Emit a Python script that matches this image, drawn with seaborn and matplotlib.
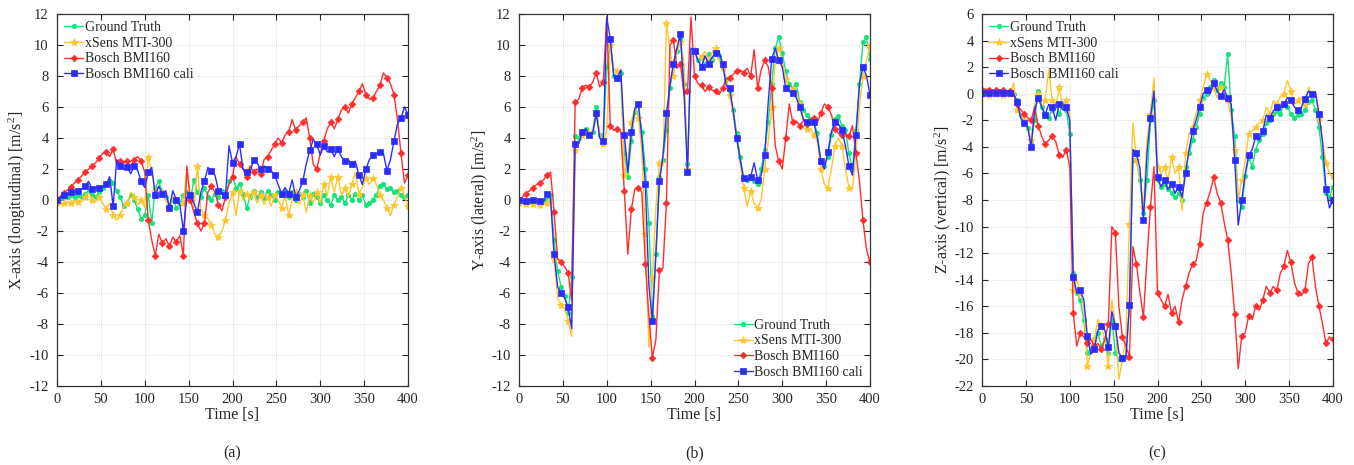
import numpy as np
import pandas as pd
import matplotlib
matplotlib.use("Agg")
import matplotlib.pyplot as plt
import seaborn as sns

# Sample times [s], one sample every 4 s
t = np.arange(0, 401, 4)

series_names = ["Ground Truth", "xSens MTI-300", "Bosch BMI160", "Bosch BMI160 cali"]

# ---------------- X-axis (longitudinal) ----------------
x_gt = [0.0, 0.1, 0.2, 0.2, 0.3, 0.2, 0.3, 0.2, 0.4, 0.6,
        0.3, 0.2, 0.5, 0.8, 1.0, 1.2, 1.1, 0.6, 0.2, -0.4,
        -0.2, 0.3, 0.0, -0.6, -1.2, -1.0, 0.3, -1.5, 0.8, 1.2,
        0.5, 0.2, -0.3, 0.0, -0.5, -0.2, 0.3, 0.5, 0.0, 1.3,
        0.5, 0.2, 0.8, 0.2, 0.0, 0.4, 0.2, 0.6, 0.3, 1.2,
        1.5, 0.8, 1.0, 0.4, -0.5, 0.2, 0.6, 0.2, 0.5, 0.1,
        0.6, 0.3, 0.0, 0.5, 0.3, 0.6, 0.2, 0.5, 0.0, 0.4,
        0.2, 0.6, -0.2, 0.4, 0.2, -0.2, 0.3, 0.0, -0.3, 0.3,
        0.0, 0.2, -0.2, 0.3, 0.0, 0.4, 0.0, 0.3, -0.3, -0.2,
        0.0, 0.3, 0.9, 1.0, 0.7, 0.8, 0.5, 0.6, 0.3, 0.2,
        0.3]
x_xsens = [-0.2, -0.3, -0.2, -0.1, -0.2, 0.0, -0.1, 0.0, 0.2, 0.5,
           0.0, -0.1, 0.2, -0.2, -0.6, -0.2, -1.0, -1.3, -1.0, -0.4,
           -0.2, 0.5, 0.2, -0.3, 0.0, -0.5, 2.8, 1.8, 0.6, 0.3,
           0.5, 0.0, -0.5, 0.2, 0.0, -0.3, -0.2, 2.0, 0.0, -0.5,
           2.2, -0.6, -1.0, -1.2, -1.6, -2.2, -2.4, -2.0, -1.3, -0.2,
           0.5, -1.0, 0.6, 0.0, 0.4, 0.0, 0.5, -0.2, 0.3, -0.3,
           0.2, -0.4, 0.3, 0.0, -0.5, 0.3, -1.0, 0.0, 0.5, -0.3,
           0.4, -0.8, 0.3, -0.2, 0.5, -0.2, 1.0, 0.3, 1.5, 0.5,
           1.5, 0.3, 0.8, 0.2, 1.0, 1.8, 0.4, 0.8, 1.4, 1.0,
           1.4, 1.0, 0.3, 0.0, -0.5, -1.0, -0.3, 0.2, 0.8, 0.3,
           -0.4]
x_bosch = [0.0, 0.25, 0.45, 0.65, 0.85, 1.1, 1.3, 1.55, 1.8, 2.0,
           2.2, 2.4, 2.7, 3.0, 3.1, 2.8, 3.3, 2.3, 2.5, 2.4,
           2.5, 2.1, 2.6, 2.8, 2.5, 1.8, -1.3, -2.6, -3.6, -2.2,
           -2.8, -2.5, -3.0, -2.4, -2.7, -2.3, -3.6, 2.2, 0.0, -0.8,
           -1.5, -2.0, -1.5, 0.5, 0.9, 0.5, -0.3, -0.7, 0.2, 1.0,
           1.5, 2.8, 2.3, 2.0, 1.5, 2.2, 1.8, 2.0, 1.7, 2.6,
           2.8, 3.2, 3.6, 4.0, 3.7, 4.2, 4.4, 5.2, 4.5, 4.8,
           5.0, 5.3, 4.0, 2.3, 2.0, 3.0, 3.8, 4.6, 5.0, 4.6,
           5.2, 5.8, 6.0, 5.6, 6.2, 6.6, 7.0, 7.5, 6.8, 6.5,
           6.6, 7.0, 7.4, 8.2, 7.9, 7.5, 6.8, 5.2, 3.0, 1.1,
           1.6]
x_cali = [0.0, 0.2, 0.3, 0.4, 0.5, 0.5, 0.6, 0.7, 0.9, 1.2,
          0.7, 0.8, 0.8, 0.9, 1.0, 1.5, -0.4, 2.6, 2.2, 2.0,
          2.1, 1.7, 2.2, 1.9, 1.2, 0.8, 1.8, 2.1, 0.3, 0.9,
          0.4, 0.6, -0.5, 0.6, 0.0, -0.3, -2.0, 0.2, 0.3, -0.2,
          -0.8, 0.5, 1.2, 2.1, 1.9, 1.6, 0.6, 0.4, 0.3, 3.5,
          2.4, 2.8, 3.6, 2.0, 1.8, 1.8, 2.6, 2.4, 2.0, 2.2,
          2.0, 1.9, 1.6, 1.0, 0.4, 0.8, 0.4, 1.3, 0.2, 0.6,
          1.2, 2.3, 3.2, 3.9, 3.6, 2.9, 3.5, 3.1, 3.3, 2.8,
          3.3, 2.8, 2.5, 2.6, 2.3, 2.5, 1.6, 1.0, 2.0, 2.6,
          2.9, 3.0, 3.1, 3.0, 1.9, 2.6, 3.8, 4.9, 5.3, 6.0,
          5.5]

# ---------------- Y-axis (lateral) ----------------
y_gt = [0.0, -0.05, -0.05, -0.05, -0.05, -0.05, -0.05, -0.05, 0.0, 0.3,
        -2.6, -4.6, -5.6, -6.2, -7.3, -5.0, 4.1, 4.0, 4.4, 4.6,
        4.2, 4.4, 6.0, 4.2, 3.8, 8.6, 10.0, 8.0, 7.9, 8.2,
        3.0, 1.5, 3.8, 5.7, 6.2, 4.4, 2.0, -1.5, -7.5, -3.5,
        1.5, 2.6, 4.5, 7.2, 8.8, 9.6, 10.4, 7.5, 2.3, 9.6,
        9.6, 9.0, 9.2, 8.7, 9.4, 9.0, 9.5, 9.3, 8.6, 7.8,
        7.0, 5.8, 4.3, 2.8, 1.4, 1.3, 1.5, 1.2, 1.0, 2.0,
        3.2, 5.0, 7.5, 9.8, 10.5, 9.5, 8.3, 7.5, 7.2, 7.5,
        6.3, 5.8, 5.5, 5.2, 5.0, 4.3, 2.5, 2.2, 2.8, 4.2,
        5.2, 5.4, 4.8, 4.5, 3.0, 2.0, 4.5, 7.5, 10.2, 10.5,
        9.1]
y_xsens = [-0.2, -0.2, -0.25, -0.2, -0.25, -0.2, -0.3, -0.25, -0.2, 0.2,
           -3.8, -6.3, -6.8, -7.0, -7.8, -8.8, 3.2, 3.8, 4.2, 4.5,
           4.3, 4.2, 5.5, 4.4, 3.6, 4.5, 10.0, 8.5, 8.3, 8.0,
           1.6, 2.5, 5.0, 6.0, 5.3, 3.2, -2.2, -9.5, -5.0, -0.5,
           2.4, 2.2, 11.4, 9.8, 8.0, 9.5, 10.2, 8.8, 2.0, 9.6,
           9.7, 9.5, 9.2, 9.6, 9.0, 9.5, 9.8, 9.0, 8.5, 8.0,
           6.8, 5.5, 4.0, 2.4, 0.8, -0.4, 0.6, -0.2, -0.5, 0.0,
           2.0, 3.8, 6.0, 9.0, 9.8, 9.0, 7.8, 7.0, 7.2, 7.0,
           6.2, 5.3, 4.6, 4.6, 4.2, 3.8, 2.0, 1.0, 0.8, 2.0,
           3.5, 4.0, 3.5, 2.0, 0.8, 0.7, 3.0, 6.0, 8.0, 9.0,
           10.0]
y_bosch = [0.0, 0.2, 0.4, 0.6, 0.8, 1.0, 1.1, 1.3, 1.6, 1.8,
           -0.8, -3.8, -4.0, -4.3, -4.7, -6.5, 6.3, 6.5, 7.2, 7.4,
           7.3, 7.6, 8.2, 7.3, 7.6, 11.8, 4.8, 4.5, 4.6, 4.4,
           0.6, -3.5, -0.6, 0.7, 0.8, 0.5, -4.1, -7.5, -10.2, -9.0,
           -4.5, -4.4, -0.2, 10.0, 10.3, 8.5, 8.8, 6.8, 7.0, 11.8,
           8.0, 7.5, 7.4, 7.0, 7.3, 7.1, 7.0, 6.8, 7.2, 7.8,
           7.9, 8.1, 8.3, 8.4, 8.2, 8.5, 8.0, 9.7, 7.2, 8.4,
           9.0, 8.6, 7.2, 3.5, 2.5, 2.0, 4.0, 6.2, 5.0, 5.1,
           4.8, 5.1, 4.9, 5.2, 5.3, 5.0, 5.6, 6.2, 6.0, 5.5,
           4.6, 4.3, 4.2, 4.3, 4.1, 4.8, 3.0, 1.2, -1.3, -3.2,
           -4.0]
y_cali = [0.0, -0.05, -0.05, -0.05, 0.0, -0.05, -0.05, -0.1, 0.4, 0.1,
          -3.5, -5.6, -6.0, -6.3, -6.9, -8.3, 3.6, 3.6, 4.4, 4.6,
          4.2, 4.3, 5.6, 4.0, 3.8, 11.8, 10.4, 8.0, 7.9, 8.4,
          4.2, 1.8, 4.4, 5.9, 6.2, 4.0, 1.0, -5.5, -7.8, -3.5,
          1.2, 2.8, 5.6, 7.4, 8.8, 9.8, 10.7, 7.0, 1.8, 9.8,
          9.6, 9.0, 8.6, 9.3, 8.8, 9.2, 9.5, 9.6, 8.8, 7.4,
          7.2, 5.8, 4.0, 2.6, 1.4, 1.2, 1.5, 2.4, 1.3, 1.6,
          2.9, 6.3, 9.1, 9.8, 9.0, 8.6, 7.2, 7.0, 6.9, 6.6,
          6.0, 5.2, 5.0, 4.9, 5.0, 4.0, 2.5, 2.0, 3.1, 4.4,
          5.0, 4.9, 4.5, 3.5, 2.2, 1.6, 4.2, 7.5, 8.6, 8.0,
          6.8]

# ---------------- Z-axis (vertical) ----------------
z_gt = [0.1, 0.1, 0.1, 0.1, 0.1, 0.1, 0.1, 0.05, 0.05, 0.0,
        -0.5, -1.6, -2.2, -2.6, -3.6, -2.0, 0.2, -1.0, -1.5, -1.8,
        -1.2, -0.8, -1.5, -0.8, -1.2, -3.0, -13.5, -15.0, -15.5, -17.0,
        -19.5, -19.2, -18.5, -18.0, -19.0, -18.5, -19.5, -17.0, -19.5, -20.0,
        -20.0, -19.8, -16.0, -5.0, -5.0, -6.5, -9.0, -6.5, -2.0, -0.5,
        -6.5, -7.0, -6.8, -7.2, -7.5, -7.8, -7.5, -8.0, -5.5, -4.5,
        -3.5, -2.5, -1.5, -0.3, 0.0, 0.5, 1.0, 0.3, 0.8, 0.5,
        3.0, -1.2, -3.2, -8.0, -8.5, -6.2, -4.8, -5.5, -4.2, -3.5,
        -3.0, -2.2, -2.0, -1.5, -1.3, -1.5, -0.8, -1.0, -1.5, -1.8,
        -1.6, -1.5, -1.2, -0.6, -0.5, -1.2, -2.5, -4.8, -7.5, -7.8,
        -7.0]
z_xsens = [0.0, 0.0, -0.1, -0.05, 0.0, -0.05, -0.1, 0.0, 0.0, 0.8,
           -1.2, -1.5, -2.0, -2.5, -3.5, -0.8, 0.0, -1.0, -0.5, 1.8,
           -0.5, -1.0, 0.5, -1.0, -0.5, -1.5, -14.8, -14.0, -15.0, -16.0,
           -20.5, -19.5, -18.5, -17.0, -17.5, -18.5, -20.5, -15.5, -17.5, -21.5,
           -20.0, -18.5, -9.8, -2.2, -5.0, -6.5, -8.5, -3.5, -1.5, 1.2,
           -5.5, -6.0, -5.5, -6.5, -4.8, -6.0, -5.5, -8.8, -4.5, -3.0,
           -2.5, -1.5, -0.5, 0.5, 1.5, 1.0, 0.5, -0.3, 0.5, 0.0,
           -0.5, -1.8, -4.2, -8.0, -6.5, -5.0, -3.0, -2.8, -2.5, -2.2,
           -2.0, -1.0, -1.5, -0.5, -0.8, -0.2, 0.0, 1.0, 0.2, -0.8,
           -0.5, -0.3, -0.8, 0.5, 0.0, 0.2, -1.8, -3.5, -5.2, -6.0,
           -6.2]
z_bosch = [0.3, 0.35, 0.3, 0.3, 0.25, 0.3, 0.25, 0.2, 0.2, 0.0,
           -0.8, -1.2, -1.5, -1.8, -2.0, -1.0, -2.4, -3.2, -3.8, -3.5,
           -3.2, -3.6, -4.6, -4.8, -4.2, -5.5, -16.5, -19.0, -18.0, -18.3,
           -18.8, -18.5, -19.0, -18.8, -19.2, -18.5, -17.3, -10.0, -10.5, -16.0,
           -18.3, -19.0, -19.8, -11.5, -12.8, -15.0, -16.8, -12.4, -8.5, -5.5,
           -15.0, -15.5, -16.0, -15.1, -16.5, -16.0, -17.2, -15.5, -14.5, -13.5,
           -12.8, -12.6, -11.3, -9.0, -8.2, -7.4, -6.3, -7.5, -8.2, -9.7,
           -11.0, -13.5, -16.6, -20.7, -18.2, -18.0, -16.7, -17.0, -16.0, -16.3,
           -15.5, -14.5, -15.0, -14.5, -14.8, -13.5, -13.0, -11.8, -12.7, -14.2,
           -15.0, -15.2, -14.8, -12.8, -12.3, -14.5, -16.0, -17.3, -18.8, -18.3,
           -18.5]
z_cali = [0.05, 0.05, 0.05, 0.05, 0.05, 0.05, 0.05, 0.05, 0.05, 0.0,
          -0.6, -1.8, -2.2, -2.5, -4.0, -1.2, -0.3, -1.0, -1.6, -0.8,
          -1.0, -2.0, -0.8, -1.2, -1.0, -2.0, -13.8, -15.0, -14.8, -15.5,
          -18.2, -19.6, -19.2, -17.8, -17.5, -17.8, -19.1, -16.4, -17.5, -19.5,
          -19.9, -19.8, -15.9, -4.2, -4.5, -5.6, -9.5, -4.5, -1.8, 0.2,
          -6.3, -7.0, -6.5, -7.2, -6.8, -7.5, -7.0, -7.8, -6.0, -4.2,
          -2.8, -2.0, -1.0, 0.0, 0.3, 0.0, 0.8, 0.2, -0.2, 0.3,
          -0.3, -0.8, -5.0, -9.9, -8.0, -6.0, -4.6, -4.2, -3.2, -3.5,
          -2.8, -1.6, -1.8, -1.3, -1.0, -1.1, -0.8, -0.3, -0.5, -1.0,
          -1.2, -1.0, -0.4, 0.2, 0.0, 0.1, -1.5, -3.6, -7.2, -8.6,
          -8.0]

panels = [
    dict(data=[x_gt, x_xsens, x_bosch, x_cali], ylabel="X-axis (longitudinal) [m/s$\\mathregular{^2}$]",
         ylim=(-12, 12), legend_loc="upper left", caption="(a)"),
    dict(data=[y_gt, y_xsens, y_bosch, y_cali], ylabel="Y-axis (lateral) [m/s$\\mathregular{^2}$]",
         ylim=(-12, 12), legend_loc="lower right", caption="(b)"),
    dict(data=[z_gt, z_xsens, z_bosch, z_cali], ylabel="Z-axis (vertical) [m/s$\\mathregular{^2}$]",
         ylim=(-22, 6), legend_loc="upper left", caption="(c)"),
]

# line styles: colour, marker, marker size, marker spacing
styles = [
    dict(color="#12e37a", marker="o", markersize=3.2, markevery=1),
    dict(color="#ffc62a", marker="*", markersize=6.0, markevery=2),
    dict(color="#ff2d2d", marker="D", markersize=3.4, markevery=2),
    dict(color="#2c2cff", marker="s", markersize=3.8, markevery=2),
]

sns.set_style("ticks")
plt.rcParams["font.family"] = ["Liberation Serif", "DejaVu Serif"]
plt.rcParams["mathtext.fontset"] = "custom"
plt.rcParams["mathtext.rm"] = "Liberation Serif"
plt.rcParams["axes.unicode_minus"] = False

fig = plt.figure(figsize=(13.54, 4.65), dpi=100)
lefts = [57 / 1354, 519 / 1354, 982 / 1354]
width = 351 / 1354
bottom = 79 / 465
height = 372 / 465

for left, p in zip(lefts, panels):
    ax = fig.add_axes([left, bottom, width, height])
    handles = []
    for name, vals, st in zip(series_names, p["data"], styles):
        df = pd.DataFrame({"Time": t, "Value": vals})
        sns.lineplot(data=df, x="Time", y="Value", ax=ax, estimator=None, sort=False,
                     color=st["color"], linewidth=1.0, marker=st["marker"],
                     markersize=st["markersize"], markevery=st["markevery"],
                     markeredgecolor=st["color"], markerfacecolor=st["color"],
                     markeredgewidth=0.5, legend=False)
        line = ax.get_lines()[-1]
        line.set_label(name)
        handles.append(line)

    ax.set_xlim(0, 400)
    ax.set_ylim(*p["ylim"])
    ax.set_xticks(np.arange(0, 401, 50))
    ax.set_yticks(np.arange(p["ylim"][0], p["ylim"][1] + 1, 2))
    ax.grid(True, color="#d4d4d4", linestyle=(0, (1, 1.5)), linewidth=0.6)
    ax.tick_params(direction="in", length=4, width=0.8, top=True, right=True,
                   labelsize=10.5, colors="#262626")
    ax.tick_params(axis="y", pad=6)
    ax.tick_params(axis="x", pad=5)
    for s in ax.spines.values():
        s.set_color("#333333")
        s.set_linewidth(0.9)
    ax.set_xlabel("Time [s]", fontsize=11.5, labelpad=1, color="#262626")
    ax.set_ylabel(p["ylabel"], fontsize=11.5, labelpad=1, color="#262626")

    ax.legend(handles=handles, loc=p["legend_loc"], frameon=False, fontsize=10,
              handlelength=1.4, handletextpad=0.1, labelspacing=0.2,
              borderaxespad=0.3, borderpad=0.2)

    fig.text(left + width / 2, 1 - 453 / 465, p["caption"], ha="center", va="center",
             fontsize=11.5, color="#262626")

fig.savefig("out.png", dpi=100)
